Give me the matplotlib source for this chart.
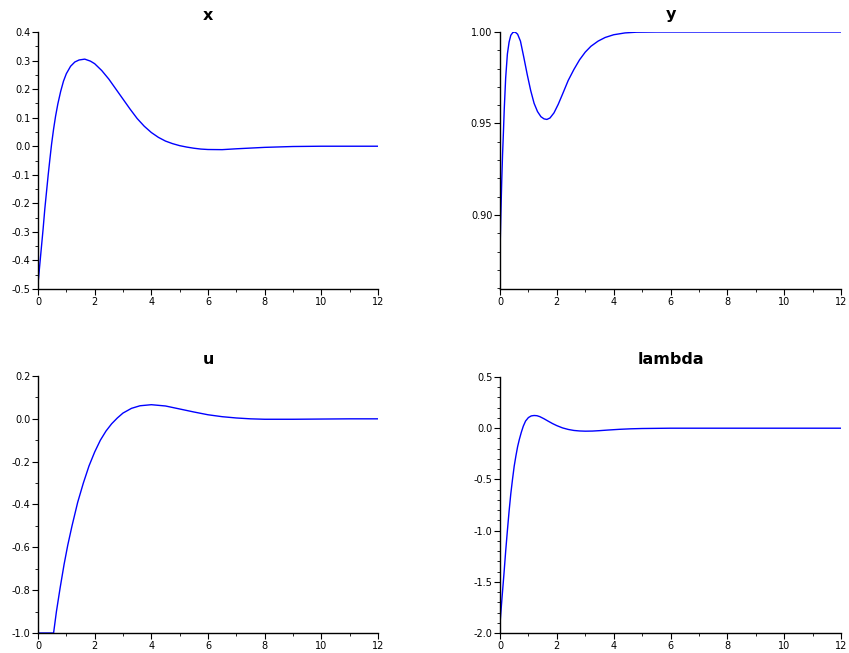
import matplotlib
matplotlib.use("Agg")
import matplotlib.pyplot as plt
from matplotlib.ticker import MultipleLocator, FormatStrFormatter

# ---- data ----
t_x = [0, 0.06, 0.12, 0.18, 0.24, 0.3, 0.36, 0.42, 0.48, 0.55, 0.62, 0.7, 0.8, 0.9, 1.0,
       1.15, 1.3, 1.45, 1.65, 1.85, 2.0, 2.25, 2.5, 2.75, 3.0, 3.25, 3.5, 3.75, 4.0, 4.25,
       4.5, 4.75, 5.0, 5.25, 5.5, 5.75, 6.0, 6.5, 7.0, 8.0, 9.0, 10, 11, 12]
x_vals = [-0.482, -0.418, -0.354, -0.29, -0.22, -0.16, -0.10, -0.045, 0.008, 0.06, 0.105,
          0.148, 0.192, 0.228, 0.254, 0.28, 0.295, 0.302, 0.305, 0.298, 0.289, 0.265, 0.235,
          0.20, 0.165, 0.13, 0.097, 0.07, 0.048, 0.031, 0.018, 0.009, 0.002, -0.003,
          -0.007, -0.010, -0.0115, -0.012, -0.009, -0.004, -0.001, 0.0, 0.0, 0.0]

t_y = [0, 0.03, 0.06, 0.09, 0.12, 0.15, 0.2, 0.26, 0.32, 0.38, 0.45, 0.53, 0.62, 0.72, 0.84,
       0.96, 1.08, 1.2, 1.32, 1.44, 1.55, 1.65, 1.76, 1.9, 2.05, 2.2, 2.4, 2.6, 2.8, 3.0,
       3.2, 3.45, 3.7, 4.0, 4.4, 4.8, 5.5, 6, 8, 10, 12]
y_vals = [0.8795, 0.900, 0.918, 0.933, 0.945, 0.958, 0.975, 0.988, 0.9945, 0.9982, 0.9997,
          1.0, 0.9988, 0.995, 0.986, 0.9766, 0.968, 0.961, 0.9565, 0.9537, 0.9525, 0.9522,
          0.9530, 0.9558, 0.9605, 0.9660, 0.9735, 0.9795, 0.9848, 0.9890, 0.9922, 0.9950,
          0.9970, 0.9985, 0.9995, 0.9999, 1.0, 1.0, 1.0, 1.0, 1.0]

t_u = [0, 0.55, 0.65, 0.78, 0.92, 1.05, 1.2, 1.4, 1.6, 1.8, 2.0, 2.2, 2.4, 2.6, 2.8, 3.0,
       3.3, 3.6, 4.0, 4.5, 5.0, 5.5, 6.0, 6.5, 7.0, 7.5, 8.0, 9.0, 10, 11, 12]
u_vals = [-1.0, -1.0, -0.90, -0.79, -0.68, -0.59, -0.50, -0.39, -0.30, -0.22, -0.155,
          -0.10, -0.057, -0.023, 0.004, 0.027, 0.049, 0.061, 0.066, 0.06, 0.046, 0.032, 0.019,
          0.01, 0.004, 0.0, -0.002, -0.002, -0.001, 0.0, 0.0]

t_l = [0, 0.07, 0.14, 0.2, 0.26, 0.32, 0.38, 0.44, 0.5, 0.56, 0.62, 0.68, 0.75, 0.82, 0.9,
       1.0, 1.1, 1.2, 1.3, 1.4, 1.55, 1.7, 1.85, 2.0, 2.2, 2.4, 2.6, 2.8, 3.0, 3.25, 3.5,
       3.8, 4.2, 4.6, 5.0, 6, 8, 10, 12]
l_vals = [-1.91, -1.66, -1.42, -1.2, -1.0, -0.81, -0.64, -0.5, -0.37, -0.27, -0.18, -0.11,
          -0.04, 0.02, 0.07, 0.104, 0.12, 0.124, 0.122, 0.113, 0.092, 0.068, 0.045,
          0.025, 0.003, -0.012, -0.022, -0.027, -0.029, -0.028, -0.024, -0.018, -0.011,
          -0.006, -0.003, 0.0, 0.0, 0.0, 0.0]

titles = ["x", "y", "u", "lambda"]

# ---- layout / styling ----
W, H = 849, 653
fig = plt.figure(figsize=(W / 100, H / 100), dpi=100)

def frac(left, right, top, bottom):
    return [left / W, 1 - bottom / H, (right - left) / W, (bottom - top) / H]

panels = [
    (frac(38, 378, 32, 289), t_x, x_vals, (-0.5, 0.4), 0.1, 0.05, "%.1f"),
    (frac(500, 841, 32, 289), t_y, y_vals, (0.8595, 1.0), 0.05, 0.01, "%.2f"),
    (frac(38, 378, 376, 633), t_u, u_vals, (-1.0, 0.2), 0.2, 0.1, "%.1f"),
    (frac(500, 841, 377, 633), t_l, l_vals, (-2.0, 0.5), 0.5, 0.1, "%.1f"),
]

for (rect, t, v, ylim, maj, mnr, fmt), title in zip(panels, titles):
    ax = fig.add_axes(rect)
    ax.plot(t, v, color="#0000ff", lw=1.0)
    ax.set_xlim(0, 12)
    ax.set_ylim(*ylim)
    ax.xaxis.set_major_locator(MultipleLocator(2))
    ax.xaxis.set_minor_locator(MultipleLocator(1))
    ax.yaxis.set_major_locator(MultipleLocator(maj))
    ax.yaxis.set_minor_locator(MultipleLocator(mnr))
    ax.yaxis.set_major_formatter(FormatStrFormatter(fmt))
    for s in ("top", "right"):
        ax.spines[s].set_visible(False)
    for s in ("left", "bottom"):
        ax.spines[s].set_linewidth(1.0)
        ax.spines[s].set_color("black")
    ax.tick_params(which="major", length=4, width=0.8, labelsize=7, pad=1.5,
                   direction="out")
    ax.tick_params(which="minor", length=2, width=0.6, direction="out")
    ax.set_title(title, fontsize=11.5, fontweight="bold", pad=9)
    ax.patch.set_alpha(0)

fig.savefig("out.png", dpi=100)
